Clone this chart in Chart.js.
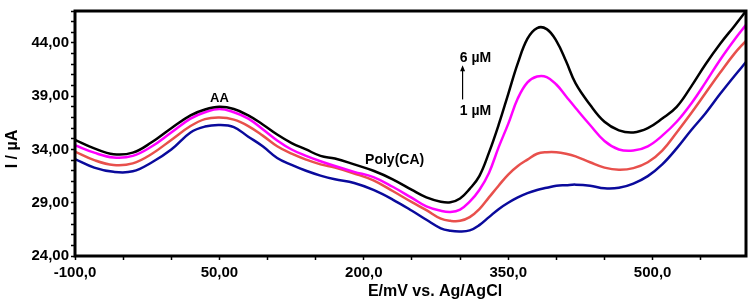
<!DOCTYPE html>
<html>
<head>
<meta charset="utf-8">
<script src="https://cdn.jsdelivr.net/npm/chart.js@4.4.0/dist/chart.umd.min.js"></script>
<style>
html, body { margin: 0; padding: 0; background: #fff; }
#wrap { width: 754px; height: 302px; }
</style>
</head>
<body>
<div id="wrap"><canvas id="myChart"></canvas></div>
<script>
// potential (mV vs Ag/AgCl)
const potential = [-100, -80, -60, -40, -20, 0, 20, 35, 50, 65, 80, 95, 110, 125, 140, 155, 170, 190, 210, 230,
                   250, 265, 280, 290, 300, 310, 320, 330, 340, 350, 360, 370, 380, 390, 400, 410, 420, 435,
                   450, 465, 480, 495, 510, 525, 540, 555, 570, 585, 597];

// current (µA), top curve = 6 µM ... bottom curve = 1 µM
const curveBlack = [34.9, 34.1, 33.55, 33.7, 34.7, 36.0, 37.2, 37.75, 38.0, 37.8, 37.2, 36.35, 35.4, 34.6, 34.0, 33.4, 33.15, 32.6, 32.0, 31.2,
                    30.2, 29.5, 29.1, 29.05, 29.4, 30.3, 31.5, 33.7, 36.3, 39.2, 42.1, 44.4, 45.4, 45.3, 44.2, 42.3, 40.2, 38.2,
                    36.6, 35.8, 35.6, 36.0, 36.9, 38.0, 39.9, 42.0, 43.9, 45.6, 47.0];
const curveMagenta = [34.4, 33.7, 33.25, 33.4, 34.3, 35.6, 36.9, 37.5, 37.8, 37.5, 36.9, 35.9, 34.85, 34.0, 33.4, 32.9, 32.45, 31.9, 31.4, 30.5,
                      29.45, 28.65, 28.25, 28.14, 28.36, 29.1, 30.2, 31.8, 34.2, 36.4, 38.8, 40.3, 40.85, 40.8, 40.1, 39.0, 37.9, 36.3,
                      34.8, 34.0, 33.9, 34.3, 35.3, 36.6, 38.3, 40.3, 42.4, 44.3, 45.7];
const curveRed = [33.8, 33.0, 32.55, 32.7, 33.6, 34.9, 36.2, 36.85, 37.0, 36.8, 36.2, 35.3, 34.3, 33.6, 33.05, 32.6, 32.3, 31.75, 31.1, 30.1,
                  29.05, 28.3, 27.5, 27.3, 27.3, 27.65, 28.4, 29.5, 30.6, 31.65, 32.45, 33.05, 33.6, 33.75, 33.75, 33.6, 33.35, 32.8,
                  32.3, 32.1, 32.25, 32.8, 33.9, 35.6, 37.4, 39.3, 41.2, 43.0, 44.2];
const curveBlue = [33.1, 32.3, 31.9, 31.95, 32.8, 34.0, 35.6, 36.15, 36.3, 36.1, 35.2, 34.3, 33.2, 32.55, 32.0, 31.55, 31.2, 30.85, 30.2, 29.3,
                   28.25, 27.4, 26.6, 26.37, 26.3, 26.4, 26.9, 27.65, 28.4, 29.0, 29.5, 29.9, 30.2, 30.4, 30.6, 30.65, 30.7, 30.6,
                   30.35, 30.4, 30.8, 31.5, 32.6, 34.1, 35.8, 37.4, 39.2, 40.9, 42.2];

// tick labels as printed in the figure
const xTickValues = [-100, 50, 200, 350, 500];
const xTickLabels = ['-100,0', '50,00', '200,0', '350,0', '500,0'];
const yTickValues = [24, 29, 34, 39, 44];
const yTickLabels = ['24,00', '29,00', '34,00', '39,00', '44,00'];

function pts(vals) {
    return potential.map((e, i) => ({x: e, y: vals[i]}));
}

function line(vals, color) {
    return {
        data: pts(vals),
        borderColor: color,
        borderWidth: 2.5,
        pointRadius: 0,
        fill: false,
        tension: 0.4
    };
}

function labelFor(values, labels, v) {
    const i = values.findIndex(t => Math.abs(t - v) < 1e-6);
    return i >= 0 ? labels[i] : '';
}

Chart.defaults.font.family = '"Liberation Sans", Arial, sans-serif';
Chart.defaults.font.weight = 'bold';
Chart.defaults.color = '#000';

// frame, axis titles and the text notes on the plot
const extras = {
    id: 'extras',
    afterDatasetsDraw(chart) {
        const {ctx, chartArea: a, scales: {x, y}} = chart;
        ctx.save();
        ctx.strokeStyle = '#000';
        ctx.lineWidth = 3;
        ctx.strokeRect(a.left, a.top, a.right - a.left, a.bottom - a.top);

        ctx.fillStyle = '#000';
        ctx.textAlign = 'center';
        ctx.textBaseline = 'middle';

        ctx.font = 'bold 13px "Liberation Sans", Arial';
        ctx.fillText('AA', x.getPixelForValue(50), y.getPixelForValue(38.8));
        ctx.font = 'bold 14px "Liberation Sans", Arial';
        ctx.fillText('Poly(CA)', x.getPixelForValue(232), y.getPixelForValue(33.0));
        ctx.fillText('6 µM', x.getPixelForValue(316), y.getPixelForValue(42.6));
        ctx.fillText('1 µM', x.getPixelForValue(316), y.getPixelForValue(37.6));

        // arrow 1 µM -> 6 µM
        const ax = x.getPixelForValue(302.6);
        const y0 = y.getPixelForValue(38.7);
        const y1 = y.getPixelForValue(41.9);
        ctx.lineWidth = 1.2;
        ctx.beginPath();
        ctx.moveTo(ax, y0);
        ctx.lineTo(ax, y1 + 3);
        ctx.stroke();
        ctx.beginPath();
        ctx.moveTo(ax, y1);
        ctx.lineTo(ax - 2.5, y1 + 6);
        ctx.lineTo(ax + 2.5, y1 + 6);
        ctx.closePath();
        ctx.fill();

        // axis titles
        ctx.font = 'bold 16px "Liberation Sans", Arial';
        ctx.fillText('E/mV vs. Ag/AgCl', 435, 292);
        ctx.save();
        ctx.translate(13, 149);
        ctx.rotate(-Math.PI / 2);
        ctx.fillText('I / µA', 0, 0);
        ctx.restore();
        ctx.restore();
    }
};

const ctx = document.getElementById('myChart');

var chart = new Chart(ctx, {
    type: 'line',
    data: {
        datasets: [
            line(curveBlack, '#000000'),
            line(curveMagenta, '#ff00ff'),
            line(curveRed, '#e8504c'),
            line(curveBlue, '#0a0a9c')
        ]
    },
    options: {
        responsive: true,
        maintainAspectRatio: false,
        animation: false,
        layout: {padding: {top: 3, right: 8, left: 0, bottom: 0}},
        plugins: {legend: {display: false}, tooltip: {enabled: false}},
        scales: {
            x: {
                type: 'linear',
                min: -100,
                max: 597,
                afterFit: s => { s.height = 46; },
                border: {display: false},
                grid: {drawOnChartArea: false, tickLength: 4, tickColor: '#000', tickWidth: 1.5},
                ticks: {
                    stepSize: 50,
                    includeBounds: false,
                    autoSkip: false,
                    maxRotation: 0,
                    padding: 4,
                    font: {size: 15, weight: 'bold'},
                    callback: v => labelFor(xTickValues, xTickLabels, v)
                }
            },
            y: {
                min: 24,
                max: 47,
                afterFit: s => { s.width = 75; },
                border: {display: false},
                grid: {drawOnChartArea: false, tickLength: 4, tickColor: '#000', tickWidth: 1.5},
                ticks: {
                    stepSize: 1,
                    includeBounds: false,
                    autoSkip: false,
                    padding: 2,
                    font: {size: 15, weight: 'bold'},
                    callback: v => labelFor(yTickValues, yTickLabels, v)
                }
            }
        }
    },
    plugins: [extras]
});
</script>
</body>
</html>
